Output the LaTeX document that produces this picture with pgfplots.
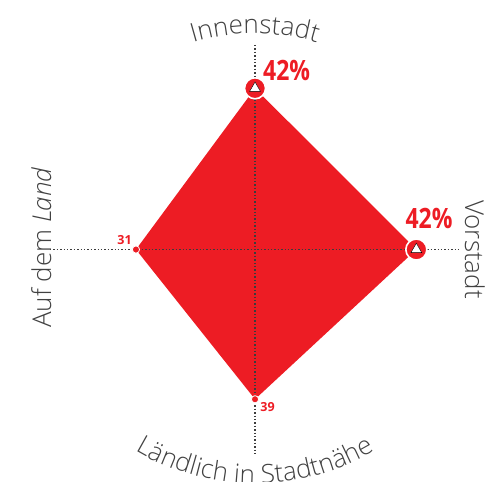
\documentclass[border=0pt]{standalone}
\usepackage{fontspec}
\setmainfont{Open Sans}[UprightFont=* Light, ItalicFont=* Light Italic, BoldFont=* Bold]
\newfontfamily\condfont[FakeStretch=0.82]{Open Sans}
\usepackage{pgfplots}
\pgfplotsset{compat=1.18}
\usetikzlibrary{calc, decorations.text}
\definecolor{radred}{RGB}{237,28,36}
\definecolor{labgray}{RGB}{65,65,65}
\definecolor{dotgray}{RGB}{60,60,60}

\begin{document}
\begin{tikzpicture}
\begin{axis}[
    width=487pt, height=481pt, scale only axis,
    xmin=-66.4, xmax=60.4, ymin=-60.3, ymax=65,
    hide axis, clip=false,
]
% the diamond
\addplot[fill=radred, draw=none] coordinates {(0,42) (42,0) (0,-39) (-31,0)} -- cycle;
% dotted spokes
\addplot[dotgray, dotted, line width=1.4pt] coordinates {(-53.4,0) (53.4,0)};
\addplot[dotgray, dotted, line width=1.4pt] coordinates {(0,53.3) (0,-53.0)};
% markers
\addplot[only marks, mark=*, mark size=10.5pt, mark options={fill=radred, draw=white, line width=1.6pt}] coordinates {(0,42) (42,0)};
\addplot[only marks, mark=triangle*, mark size=6.3pt, mark options={fill=white, draw=none}] coordinates {(0,42) (42,0)};
\addplot[only marks, mark=*, mark size=3.6pt, mark options={fill=radred, draw=white, line width=0.8pt}] coordinates {(-31,0) (0,-39)};
\coordinate (c) at (axis cs:0,0);
\coordinate (bl) at (axis cs:-66.4,-60.3);
\coordinate (tr) at (axis cs:60.4,65);
\end{axis}

% value labels
\node[anchor=base west, inner sep=0, text=radred, font=\condfont\bfseries\fontsize{28}{30}\selectfont] at ($(c)+(8pt,169.5pt)$) {42\%};
\node[anchor=base, inner sep=0, text=radred, font=\condfont\bfseries\fontsize{28}{30}\selectfont] at ($(c)+(174pt,21.5pt)$) {42\%};
\node[inner sep=0, text=radred, font=\bfseries\fontsize{12.5}{14}\selectfont] at ($(c)+(-130.5pt,9pt)$) {31};
\node[inner sep=0, text=radred, font=\bfseries\fontsize{12.5}{14}\selectfont] at ($(c)+(12.5pt,-157.5pt)$) {39};

% category labels
\path[decorate, decoration={text along path, text align=center, text color=labgray,
    text={|\fontsize{26}{30}\selectfont|Innenstadt}}]
    ($(c)+(160:216pt)$) arc[start angle=160, end angle=20, radius=216pt];
\path[decorate, decoration={text along path, text align=center, text color=labgray,
    text={|\fontsize{26}{30}\selectfont|Ländlich in Stadtnähe}}]
    ($(c)+(200:234pt)$) arc[start angle=200, end angle=340, radius=234pt];
\node[anchor=base, inner sep=0, rotate=-90, text=labgray, font=\fontsize{26}{30}\selectfont] at ($(c)+(210pt,0pt)$) {Vorstadt};
\node[anchor=base, inner sep=0, rotate=90, text=labgray, font=\fontsize{26}{30}\selectfont] at ($(c)+(-204pt,2pt)$) {Auf dem \textit{Land}};

\pgfresetboundingbox
\useasboundingbox (bl) rectangle (tr);
\end{tikzpicture}
\end{document}
